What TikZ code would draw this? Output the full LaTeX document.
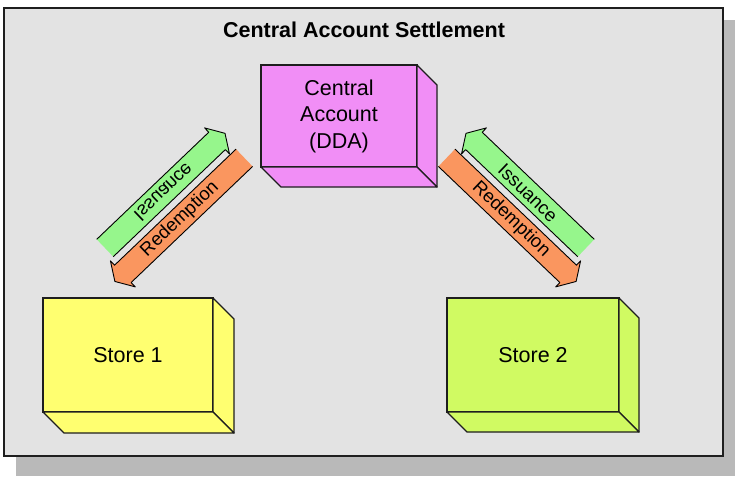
\documentclass[tikz,border=0pt]{standalone}
\usepackage{fontspec}
\setmainfont{Liberation Sans}
\definecolor{bgfill}{RGB}{227,227,227}
\definecolor{shadowc}{RGB}{185,185,185}
\definecolor{pinkc}{RGB}{241,142,246}
\definecolor{yellowc}{RGB}{255,255,112}
\definecolor{limec}{RGB}{208,250,98}
\definecolor{greenc}{RGB}{150,246,140}
\definecolor{orangec}{RGB}{250,150,95}
\definecolor{edgec}{RGB}{30,30,30}
\newcommand\bandarrow[5]{%
  \begin{scope}[shift={#1}, rotate=#2]
    \fill[#4] (0,-12) -- ({#3},-12) -- ({#3},-18) -- ({#3+11},0) -- ({#3},18) -- ({#3},12) -- (0,12) -- cycle;
    \draw[bandedge] (0,-12) -- ({#3},-12) -- ({#3},-18) -- ({#3+11},0) -- ({#3},18) -- ({#3},12) -- (0,12);
    \coordinate (#5) at ({#3/2},0);
  \end{scope}}
\begin{document}
\begin{tikzpicture}[x=1pt,y=-1pt,
  frame/.style={draw=edgec, line width=1.4pt, fill=bgfill},
  boxfront/.style={draw=edgec, line width=1.3pt, inner sep=0pt, outer sep=0pt, align=center,
    font=\fontsize{21.5}{26.5}\selectfont},
  boxside/.style={draw=edgec, line width=1.3pt, line join=round},
  bandedge/.style={draw=black, line width=0.9pt, line join=round},
  bandtext/.style={font=\fontsize{18.5}{20}\selectfont, inner sep=0pt}
]
\useasboundingbox (0,0) rectangle (735,476);
\fill[shadowc] (16,20) rectangle (735,476);
\draw[frame] (4,8) rectangle (723,456);
\node[font=\bfseries\fontsize{21.5}{25}\selectfont] (title) at (364,30) {Central Account Settlement};

% central account
\node[boxfront, fill=pinkc, minimum width=156, minimum height=102] (ca) at (339,116) {Central\\Account\\(DDA)};
\filldraw[boxside, fill=pinkc] (ca.north east) -- ++(20,20) -- ++(0,102) -- (ca.south east) -- cycle;
\filldraw[boxside, fill=pinkc] (ca.south west) -- ++(20,20) -- ++(156,0) -- (ca.south east) -- cycle;

% store 1
\node[boxfront, fill=yellowc, minimum width=170, minimum height=114] (s1) at (128,355) {Store 1};
\filldraw[boxside, fill=yellowc] (s1.north east) -- ++(21,21) -- ++(0,114) -- (s1.south east) -- cycle;
\filldraw[boxside, fill=yellowc] (s1.south west) -- ++(21,21) -- ++(170,0) -- (s1.south east) -- cycle;

% store 2
\node[boxfront, fill=limec, minimum width=172, minimum height=114] (s2) at (533,355) {Store 2};
\filldraw[boxside, fill=limec] (s2.north east) -- ++(20,20) -- ++(0,114) -- (s2.south east) -- cycle;
\filldraw[boxside, fill=limec] (s2.south west) -- ++(20,20) -- ++(172,0) -- (s2.south east) -- cycle;

% arrows
\bandarrow{(105,248)}{43.7}{155}{greenc}{g1}
\bandarrow{(244.3,157.8)}{223.7}{168}{orangec}{o1}
\bandarrow{(586,248)}{136.3}{155}{greenc}{g2}
\bandarrow{(446.7,157.8)}{-43.7}{168}{orangec}{o2}

\node[bandtext, rotate=43.7, yscale=-1, transform shape] (iss1) at (163.6,192) {Issuance};
\node[bandtext, rotate=43.7] (red1) at (179.9,219.3) {Redemption};
\node[bandtext, rotate=-43.7] (iss2) at (528,193) {Issuance};
\node[bandtext, rotate=-43.7] (red2) at (511.1,219.3) {Redemption};
\end{tikzpicture}
\end{document}
